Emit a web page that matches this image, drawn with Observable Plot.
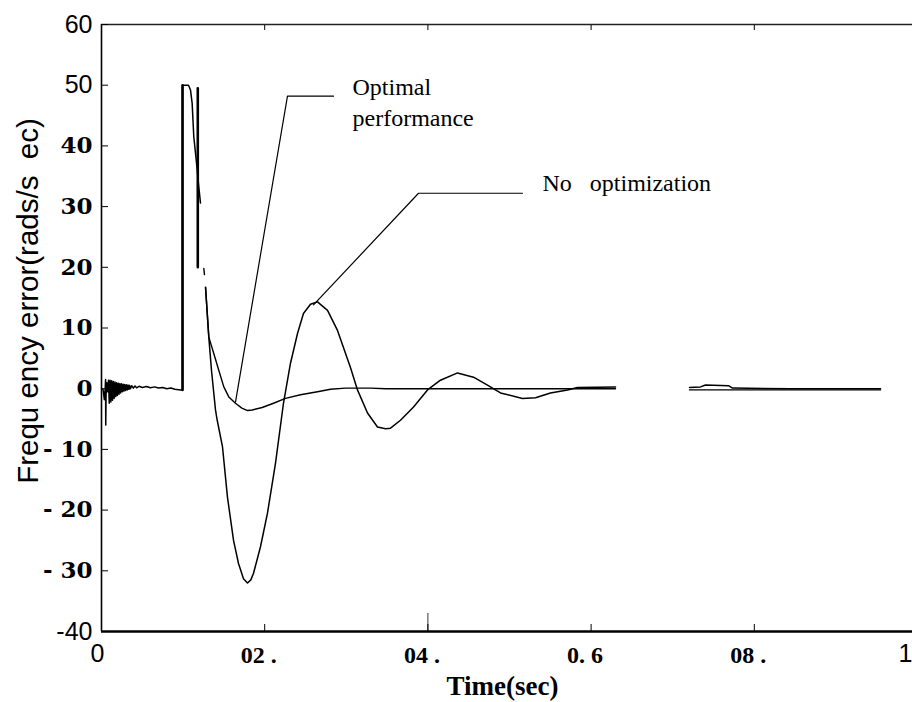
<!DOCTYPE html>
<html><head><meta charset="utf-8">
<script src="https://cdn.jsdelivr.net/npm/d3@7"></script>
<script src="https://cdn.jsdelivr.net/npm/@observablehq/plot@0.6"></script>
<style>html,body{margin:0;padding:0;background:#fff;overflow:hidden;width:912px;height:702px}</style>
</head><body><div id="chart"></div>
<script>
// ---- Data (time in seconds, frequency error in rad/s) ----
// Initial disturbance ringing, step to saturation and early decline (no optimization)
const noOptTime = [0.000,0.002,0.0035,0.0045,0.0050,0.0052,0.0056,0.0065,0.0075,0.0086,0.0095,0.0105,0.0115,0.0125,0.0135,0.0145,0.0155,0.0165,0.0175,0.0185,0.0195,0.0205,0.0215,0.0225,0.0235,0.0245,0.0255,0.0265,0.0275,0.0285,0.0295,0.0305,0.0315,0.0325,0.0335,0.0345,0.0355,0.037,0.039,0.041,0.043,0.046,0.050,0.055,0.060,0.065,0.070,0.075,0.080,0.085,0.090,0.0968,0.0993,0.0993,0.1066,0.1091,0.1111,0.1131,0.1152,0.1173,0.1192,0.1213,0.124,
  0.1275,0.1315,0.1348,0.1397,0.1418,0.1483,0.1544,0.1618,0.1679,0.1740,0.1789,0.1830,0.1863,0.1949,0.2034,0.2132,0.2230,0.2316,0.2402,0.2475,0.2561,0.2647,0.2770,0.2892,0.3051,0.3137,0.3260,0.3382,0.3480,0.3542,0.3664,0.3824,0.3995,0.4154,0.4363,0.4559,0.4730,0.4890,0.5159,0.5319,0.5502,0.5711,0.5833,0.6299,0.675,0.7206,0.7341,0.7402,0.7684,0.7733,0.8444,0.9547];
const noOptValue = [0.0,-0.2,-1.8,0.0,1.5,-6.0,-1.0,1.0,-0.5,1.4,-2.4,1.4,-2.2,1.3,-1.9,1.2,-1.6,1.1,-1.3,1.0,-1.1,0.9,-0.9,0.85,-0.7,0.8,-0.5,0.75,-0.4,0.7,-0.3,0.65,-0.2,0.6,-0.1,0.55,0.0,0.5,0.1,0.45,0.15,0.4,0.2,0.35,0.15,0.3,0.1,0.2,0.0,0.1,-0.1,-0.2,-0.2,50.0,50.0,49.2,47.0,41.5,38.8,36.1,33.3,30.6,null,
  16.7,8.5,3.0,-3.5,-5.2,-9.6,-17.9,-25.0,-28.8,-31.3,-32.0,-31.5,-30.4,-26.0,-20.5,-12.3,-2.4,4.2,9.1,12.4,13.9,14.3,12.9,9.6,3.5,-0.2,-4.0,-6.3,-6.6,-6.5,-5.2,-3.0,-0.2,1.4,2.6,1.9,0.6,-0.7,-1.6,-1.5,-0.7,-0.2,0.2,0.3,null,0.2,0.3,0.6,0.5,0.1,0.0,0.0];

// Optimal performance
const optTime = [0.1180,0.1180,0.121,0.1254,0.1262,0.1268,0.1275,0.1315,0.1376,0.1438,0.1499,0.1560,0.1642,0.1720,0.1789,0.1847,0.1969,0.2108,0.2255,0.2439,0.2647,0.2806,0.2990,0.3300,0.3480,0.4500,0.5500,0.6299,0.675,0.7206,0.8444,0.9547];
const optValue = [49.5,20.0,null,19.8,18.8,null,16.7,8.5,5.8,3.0,0.3,-1.35,-2.4,-3.2,-3.6,-3.5,-3.1,-2.4,-1.6,-1.0,-0.5,-0.1,0.1,0.1,0.0,0.0,0.0,0.0,null,-0.2,-0.2,-0.2];

// Heavier vertical strokes (disturbance step)
const stepTime = [0.0993,0.0993,0.105,0.1180,0.1180];
const stepValue = [-0.2,50.0,null,49.5,20.0];

// Annotations
const annoLabels = ["Optimal","performance","No\u00a0\u00a0\u00a0optimization"];
const annoTime = [0.3076,0.3076,0.5404];
const annoValue = [49.6,44.5,33.8];
const leaderOptTime = [0.1642,0.2279,0.2843];
const leaderOptValue = [-2.2,48.2,48.2];
const leaderNoTime = [0.2598,0.3885,0.5159];
const leaderNoValue = [13.8,32.2,32.2];

// Axes
const yTickValues = [60,50,40,30,20,10,0,-10,-20,-30,-40];
const yTickLabels = ["60","50","40","30","20","10","0","- 10","- 20","- 30","-40"];
const yTickSans   = [true,true,false,false,false,false,false,false,false,false,true];
const xTickValues = [0,0.2,0.4,0.6,0.8,1];
const xTickLabels = ["0","02 .","04 .","0. 6","08 .","1"];
const xTickSans   = [true,false,false,false,false,true];
const longTickValues = [0.4];
const topTickValues = [0.2,0.4,0.6,0.8,1];
const yTitle = "Frequ ency error(rads/s\u00a0\u00a0ec)";
const xTitle = "Time(sec)";

// ---- Build tables ----
const noOpt = noOptTime.map((t,i)=>({t, v: noOptValue[i]}));
const opt = optTime.map((t,i)=>({t, v: optValue[i]}));
const step = stepTime.map((t,i)=>({t, v: stepValue[i]}));
const anno = annoLabels.map((s,i)=>({s, t: annoTime[i], v: annoValue[i]}));
const leadOpt = leaderOptTime.map((t,i)=>({t, v: leaderOptValue[i]}));
const leadNo = leaderNoTime.map((t,i)=>({t, v: leaderNoValue[i]}));
const yLab = new Map(yTickValues.map((v,i)=>[v, yTickLabels[i]]));
const xLab = new Map(xTickValues.map((v,i)=>[v, xTickLabels[i]]));

const SANS = "'Liberation Sans', Arial, Helvetica, sans-serif";
const SERIF = "'Liberation Serif', 'Times New Roman', serif";
const BSERIF = "'DejaVu Serif', 'Liberation Serif', serif";

const chart = Plot.plot({
  width: 912, height: 702,
  marginLeft: 101, marginRight: -5, marginTop: 24, marginBottom: 71,
  x: {domain: [0, 1]},
  y: {domain: [-40, 60]},
  style: {background: "#fff", overflow: "hidden", color: "#000"},
  marks: [
    // frame
    Plot.ruleY([60], {stroke: "#222", strokeWidth: 1.6}),
    Plot.ruleY([-40], {stroke: "#000", strokeWidth: 2.6}),
    Plot.ruleX([0], {stroke: "#000", strokeWidth: 1.6}),
    // ticks (inward)
    Plot.axisY({ticks: yTickValues, tickSize: -7, tickFormat: () => "", label: null, stroke: "#000"}),
    Plot.axisX({anchor: "bottom", ticks: xTickValues.filter(v => v > 0 && v < 1), tickSize: -7, tickFormat: () => "", label: null, stroke: "#000"}),
    Plot.axisX({anchor: "bottom", ticks: longTickValues, tickSize: -18, tickFormat: () => "", label: null, stroke: "#000", strokeWidth: 0.8}),
    Plot.axisX({anchor: "top", ticks: topTickValues, tickSize: -5, tickFormat: () => "", label: null, stroke: "#000"}),
    // tick labels
    Plot.axisY({ticks: yTickValues.filter((v,i)=>yTickSans[i]), tickSize: 0, tickPadding: 9, tickFormat: d => yLab.get(d), label: null, fontFamily: SANS, fontSize: 25, fill: "#000"}),
    Plot.axisY({ticks: yTickValues.filter((v,i)=>!yTickSans[i]), tickSize: 0, tickPadding: 9, tickFormat: d => yLab.get(d), label: null, fontFamily: BSERIF, fontWeight: "bold", fontSize: 23, fill: "#000"}),
    Plot.axisX({ticks: [0], tickSize: 0, tickPadding: 13, dx: -4, tickFormat: d => xLab.get(d), label: null, fontFamily: SANS, fontSize: 25, fill: "#000"}),
    Plot.axisX({ticks: [1], tickSize: 0, tickPadding: 13, dx: -5, textAnchor: "end", tickFormat: d => xLab.get(d), label: null, fontFamily: SANS, fontSize: 25, fill: "#000"}),
    Plot.axisX({ticks: xTickValues.filter((v,i)=>!xTickSans[i]), tickSize: 0, tickPadding: 14, dx: -6, tickFormat: d => xLab.get(d), label: null, fontFamily: SERIF, fontWeight: "bold", fontSize: 24, fill: "#000"}),
    // titles
    Plot.text([yTitle], {text: d => d, frameAnchor: "left", textAnchor: "middle", lineAnchor: "middle", rotate: -90, dx: -73, dy: -27, fontFamily: SANS, fontSize: 29.5, fill: "#000"}),
    Plot.text([xTitle], {text: d => d, frameAnchor: "bottom", textAnchor: "middle", lineAnchor: "middle", dx: -7, dy: 55, fontFamily: SERIF, fontWeight: "bold", fontSize: 27, fill: "#000"}),
    // curves
    Plot.line(noOpt, {x: "t", y: "v", stroke: "#000", strokeWidth: 1.5, curve: "linear"}),
    Plot.line(opt, {x: "t", y: "v", stroke: "#000", strokeWidth: 1.4, curve: "linear"}),
    Plot.line(step, {x: "t", y: "v", stroke: "#000", strokeWidth: 2.6}),
    // leaders and labels
    Plot.line(leadOpt, {x: "t", y: "v", stroke: "#000", strokeWidth: 1.2}),
    Plot.line(leadNo, {x: "t", y: "v", stroke: "#000", strokeWidth: 1.2}),
    Plot.text(anno, {x: "t", y: "v", text: "s", textAnchor: "start", fontFamily: SERIF, fontSize: 24, fill: "#000"})
  ]
});
document.getElementById("chart").appendChild(chart);
</script>
</body></html>
